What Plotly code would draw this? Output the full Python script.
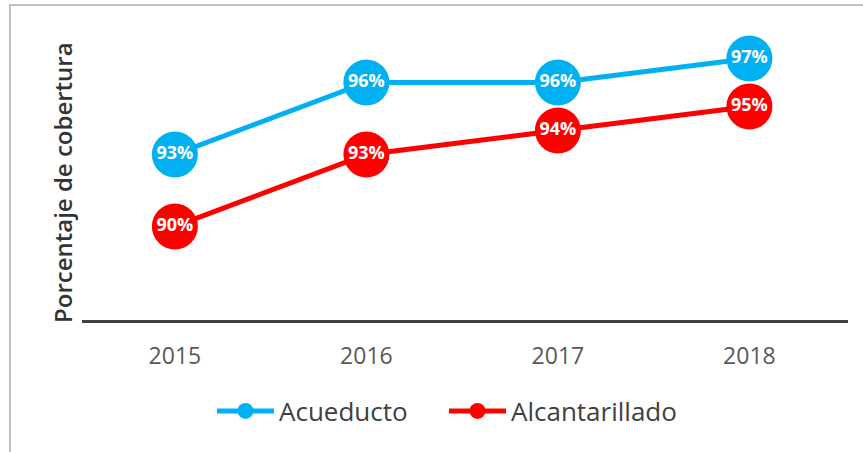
import plotly.graph_objects as go

years = ["2015", "2016", "2017", "2018"]
acueducto = [93, 96, 96, 97]
alcantarillado = [90, 93, 94, 95]

W, H = 863, 452
L, R, T, B = 82, 15, 8, 132
pw, ph = W - L - R, H - T - B

def px_x(x):
    return (x - L) / pw

def px_y(y):
    return (H - B - y) / ph

fig = go.Figure()
for name, vals, col in [("Acueducto", acueducto, "#00B0F0"),
                        ("Alcantarillado", alcantarillado, "#FF0000")]:
    fig.add_trace(go.Scatter(
        x=years, y=vals, name=name, mode="lines+markers+text",
        line=dict(color=col, width=5),
        marker=dict(color=col, size=46),
        text=[f"{v}%" for v in vals], textposition="middle center",
        textfont=dict(color="white", size=18, family="Open Sans", weight="bold"),
        cliponaxis=False,
    ))

fig.update_layout(
    width=W, height=H,
    margin=dict(l=L, r=R, t=T, b=B),
    paper_bgcolor="white", plot_bgcolor="white",
    font=dict(family="Open Sans", color="#595959"),
    xaxis=dict(type="category", range=[-0.485, 3.515], showgrid=False, zeroline=False,
               showline=True, linecolor="#404040", linewidth=3,
               tickfont=dict(size=23, color="#595959"), ticks="", ticklabelstandoff=13),
    yaxis=dict(range=[86.1, 99.1], showgrid=False, zeroline=False, showline=False,
               showticklabels=False),
    showlegend=True,
    legend=dict(orientation="h", x=px_x(444), xanchor="center", y=px_y(411), yanchor="middle",
                font=dict(size=26, color="#404040"), itemwidth=57,
                entrywidth=160, traceorder="normal"),
    annotations=[dict(text="Porcentaje de cobertura", textangle=-90,
                      xref="paper", yref="paper", x=px_x(62), y=px_y(183),
                      xanchor="center", yanchor="middle", showarrow=False,
                      font=dict(size=24, color="#333333", family="Open Sans", weight=600))],
    shapes=[
        dict(type="line", xref="paper", yref="paper", x0=px_x(10), x1=px_x(880),
             y0=px_y(5), y1=px_y(5), line=dict(color="#BFBFBF", width=2)),
        dict(type="line", xref="paper", yref="paper", x0=px_x(10), x1=px_x(10),
             y0=px_y(4), y1=px_y(470), line=dict(color="#BFBFBF", width=2)),
    ],
)

fig.write_html("out.html", config={"displayModeBar": False},
               post_script="document.body.style.margin='0';")
